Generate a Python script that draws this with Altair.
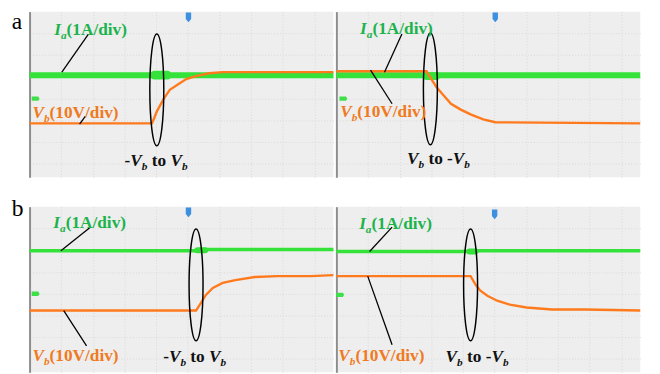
import altair as alt
import pandas as pd

# ---------------- oscilloscope traces ----------------
# t: horizontal divisions from the left edge of each screen
# v: vertical divisions from the screen centre line (Ia 1 A/div, Vb 10 V/div)
A_LEFT_I_T = [0.0, 9.6]
A_LEFT_I = [1.08, 1.08]
A_LEFT_V_T = [0.0, 3.87, 4.02, 4.24, 4.43, 4.71, 4.95, 5.26, 5.67, 6.10, 9.6]
A_LEFT_V = [-1.13, -1.13, -0.59, 0.0, 0.41, 0.68, 0.90, 1.04, 1.17, 1.22, 1.22]

A_RIGHT_I_T = [0.0, 9.6]
A_RIGHT_I = [1.08, 1.08]
A_RIGHT_V_T = [0.0, 2.85, 3.00, 3.16, 3.37, 3.62, 3.93, 4.24, 4.64, 5.02, 9.6]
A_RIGHT_V = [1.26, 1.26, 0.90, 0.54, 0.18, -0.23, -0.50, -0.72, -0.95, -1.08, -1.13]

B_LEFT_I_T = [0.0, 5.3, 5.5, 9.6]
B_LEFT_I = [1.98, 1.98, 2.03, 2.03]
B_LEFT_V_T = [0.0, 5.26, 5.42, 5.57, 5.79, 6.10, 6.50, 7.12, 7.83, 8.89, 9.6]
B_LEFT_V = [-0.77, -0.77, -0.41, -0.05, 0.27, 0.50, 0.63, 0.77, 0.81, 0.81, 0.86]

B_RIGHT_I_T = [0.0, 4.2, 4.4, 9.6]
B_RIGHT_I = [1.94, 1.94, 1.98, 1.98]
B_RIGHT_V_T = [0.0, 4.24, 4.40, 4.55, 4.77, 5.08, 5.48, 6.01, 6.81, 7.86, 9.6]
B_RIGHT_V = [0.81, 0.81, 0.41, 0.14, -0.09, -0.32, -0.50, -0.63, -0.72, -0.72, -0.77]

# short disturbances of Ia at the switching instant (start, end, level)
A_LEFT_BLIP = [3.95, 4.35, 1.08]
A_RIGHT_BLIP = [2.85, 3.15, 1.04]
B_LEFT_BLIP = [5.3, 5.55, 2.0]
B_RIGHT_BLIP = [4.2, 4.4, 1.94]

# ---------------- annotation texts ----------------
LABEL_I = [("I", "bi", False), ("a", "bi", True), ("(1A/div)", "b", False)]
LABEL_V = [("V", "bi", False), ("b", "bi", True), ("(10V/div)", "b", False)]
LABEL_UP = [("-", "b", False), ("V", "bi", False), ("b", "bi", True),
            (" to ", "b", False), ("V", "bi", False), ("b", "bi", True)]
LABEL_DOWN = [("V", "bi", False), ("b", "bi", True), (" to -", "b", False),
              ("V", "bi", False), ("b", "bi", True)]

# ---------------- layout / style ----------------
X_MAX = 9.6
Y_MIN, Y_MAX = -3.61, 4.0
W, H = 310, 169
PX_X = W / X_MAX
PX_Y = H / (Y_MAX - Y_MIN)

SERIF = "Liberation Serif"
GREEN_TRACE = "#34e23a"
ORANGE_TRACE = "#ff7a1c"
GREEN_TEXT = "#1db34c"
ORANGE_TEXT = "#f07a22"
BG = "#eeeeee"
FS, FS_SUB = 17.6, 11.5

ADV = {
    "b": {" ": 250, "(": 333, ")": 333, "-": 333, "/": 278, "0": 500, "1": 500,
          "A": 722, "V": 722, "d": 556, "i": 278, "o": 500, "t": 333, "v": 500},
    "bi": {"I": 389, "V": 667, "a": 500, "b": 500},
}

ELLIPSE = "M0,-1 A0.125,1 0 1,1 0,1 A0.125,1 0 1,1 0,-1 Z"
PIN = "M-0.55,-1 L0.55,-1 L0.55,0.35 L0,1 L-0.55,0.35 Z"
GND = "M-1,-0.55 L0.7,-0.55 L1,0 L0.7,0.55 L-1,0.55 Z"

PANELS = [
    dict(tag="a", i_t=A_LEFT_I_T, i=A_LEFT_I, v_t=A_LEFT_V_T, v=A_LEFT_V, i_w=6,
         blip=A_LEFT_BLIP, blip_w=9,
         i_lab=(0.78, 2.93), v_lab=(0.09, -0.88), tr_lab=(3.0, -3.08), tr=LABEL_UP,
         leaders=[(1.86, 2.97, 1.02, 1.22), (1.76, -0.81, 1.58, -1.17)],
         ell=(4.02, 0.41), trig=(5.02, 3.74), gnd=(0.19, 0.0), tag_pos=(-0.56, 3.2)),
    dict(tag="", i_t=A_RIGHT_I_T, i=A_RIGHT_I, v_t=A_RIGHT_V_T, v=A_RIGHT_V, i_w=6,
         blip=A_RIGHT_BLIP, blip_w=8,
         i_lab=(0.75, 2.97), v_lab=(0.12, -0.83), tr_lab=(2.23, -3.0), tr=LABEL_DOWN,
         leaders=[(2.07, 2.97, 1.52, 1.22), (1.08, 1.31, 1.76, -0.23)],
         ell=(2.97, 0.45), trig=(5.02, 3.74), gnd=(0.22, 0.0), tag_pos=None),
    dict(tag="b", i_t=B_LEFT_I_T, i=B_LEFT_I, v_t=B_LEFT_V_T, v=B_LEFT_V, i_w=3.5,
         blip=B_LEFT_BLIP, blip_w=6,
         i_lab=(0.75, 3.02), v_lab=(0.09, -3.08), tr_lab=(4.22, -3.13), tr=LABEL_UP,
         leaders=[(1.92, 3.06, 0.99, 1.98), (1.08, -0.77, 1.80, -2.39)],
         ell=(5.26, 0.41), trig=(5.02, 3.74), gnd=(0.19, 0.0), tag_pos=(-0.56, 3.56)),
    dict(tag="", i_t=B_RIGHT_I_T, i=B_RIGHT_I, v_t=B_RIGHT_V_T, v=B_RIGHT_V, i_w=3.5,
         blip=B_RIGHT_BLIP, blip_w=6,
         i_lab=(0.72, 2.97), v_lab=(0.06, -3.08), tr_lab=(3.45, -3.13), tr=LABEL_DOWN,
         leaders=[(1.76, 3.06, 1.05, 1.94), (0.99, 0.81, 1.76, -2.34)],
         ell=(4.24, 0.41), trig=(5.0, 3.65), gnd=(0.12, -0.05), tag_pos=None),
]


def adv(txt, style, fs):
    return sum(ADV[style][c] for c in txt) * fs / 1000 / PX_X


def text_rows(anchor, parts, color):
    x, y0 = anchor
    rows = []
    for txt, style, sub in parts:
        fs = FS_SUB if sub else FS
        y = y0 - (4 / PX_Y if sub else 0)
        core = txt.strip(" ")
        lead = txt[: len(txt) - len(txt.lstrip(" "))]
        x_start = x + adv(lead, style, fs)
        rows.append(dict(t=x_start, v=y, text=core, style=style, fs=fs, color=color))
        x += adv(txt, style, fs)
    return rows


xs = alt.Scale(domain=[0, X_MAX], nice=False, zero=False)
ys = alt.Scale(domain=[Y_MIN, Y_MAX], nice=False, zero=False)
xax = alt.Axis(values=list(range(1, 10)), grid=True, labels=False, ticks=False,
               domain=False, title=None)
yax = alt.Axis(values=list(range(-3, 4)), grid=True, labels=False, ticks=False,
               domain=True, domainColor="#8d8d8d", domainWidth=2, title=None)


def X(f):
    return alt.X(f, type="quantitative", scale=xs, axis=xax)


def Y(f):
    return alt.Y(f, type="quantitative", scale=ys, axis=yax)


def make_panel(p):
    i_df = pd.DataFrame({"t": p["i_t"], "v": p["i"]})
    v_df = pd.DataFrame({"t": p["v_t"], "v": p["v"]})
    blip_df = pd.DataFrame({"t": p["blip"][:2], "v": [p["blip"][2]] * 2})
    lead_df = pd.DataFrame(p["leaders"], columns=["t", "v", "t2", "v2"])
    rows = (text_rows(p["i_lab"], LABEL_I, GREEN_TEXT)
            + text_rows(p["v_lab"], LABEL_V, ORANGE_TEXT)
            + text_rows(p["tr_lab"], p["tr"], "#111111"))
    txt_df = pd.DataFrame(rows)
    ell_df = pd.DataFrame([dict(t=p["ell"][0], v=p["ell"][1])])
    trig_df = pd.DataFrame([dict(t=p["trig"][0], v=p["trig"][1])])
    gnd_df = pd.DataFrame([dict(t=p["gnd"][0], v=p["gnd"][1])])

    layers = [
        alt.Chart(i_df).mark_line(color=GREEN_TRACE, strokeWidth=p["i_w"], strokeCap="butt")
        .encode(x=X("t"), y=Y("v")),
        alt.Chart(blip_df).mark_line(color=GREEN_TRACE, strokeWidth=p["blip_w"],
                                     strokeCap="round")
        .encode(x=X("t"), y=Y("v")),
        alt.Chart(v_df).mark_line(color=ORANGE_TRACE, strokeWidth=2.4)
        .encode(x=X("t"), y=Y("v")),
        alt.Chart(lead_df).mark_rule(color="#000000", strokeWidth=1.3)
        .encode(x=X("t"), y=Y("v"), x2=alt.X2("t2"), y2=alt.Y2("v2")),
        alt.Chart(ell_df).mark_point(shape=ELLIPSE, filled=False, color="#000000",
                                     strokeWidth=1.5, size=12996, opacity=1)
        .encode(x=X("t"), y=Y("v")),
        alt.Chart(trig_df).mark_point(shape=PIN, filled=True, color="#3d8fe0",
                                      size=100, opacity=1)
        .encode(x=X("t"), y=Y("v")),
        alt.Chart(gnd_df).mark_point(shape=GND, filled=True, color="#3ee04a",
                                     size=64, opacity=1)
        .encode(x=X("t"), y=Y("v")),
    ]
    for style, fstyle in (("b", "normal"), ("bi", "italic")):
        sub = txt_df[txt_df["style"] == style]
        layers.append(
            alt.Chart(sub).mark_text(font=SERIF, fontWeight="bold", fontStyle=fstyle,
                                     align="left", baseline="alphabetic")
            .encode(x=X("t"), y=Y("v"), text="text:N",
                    size=alt.Size("fs:Q", scale=None),
                    color=alt.Color("color:N", scale=None))
        )
    if p["tag_pos"] is not None:
        tag_df = pd.DataFrame([dict(t=p["tag_pos"][0], v=p["tag_pos"][1], text=p["tag"])])
        layers.append(
            alt.Chart(tag_df).mark_text(font=SERIF, fontSize=24, align="left",
                                        baseline="alphabetic", color="#000000")
            .encode(x=X("t"), y=Y("v"), text="text:N")
        )
    return alt.layer(*layers).properties(width=W, height=H)


panels = [make_panel(p) for p in PANELS]
chart = (
    alt.concat(*panels, columns=2, spacing={"row": 30, "column": 3}, bounds="flush")
    .properties(padding={"left": 3, "top": -2, "right": 0, "bottom": 0})
    .configure_view(fill=BG, strokeWidth=0)
    .configure_axis(gridColor="#d9d9d9", gridDash=[1, 2], gridWidth=1)
)

chart.save("out.html", embed_options={"renderer": "svg", "actions": False})
